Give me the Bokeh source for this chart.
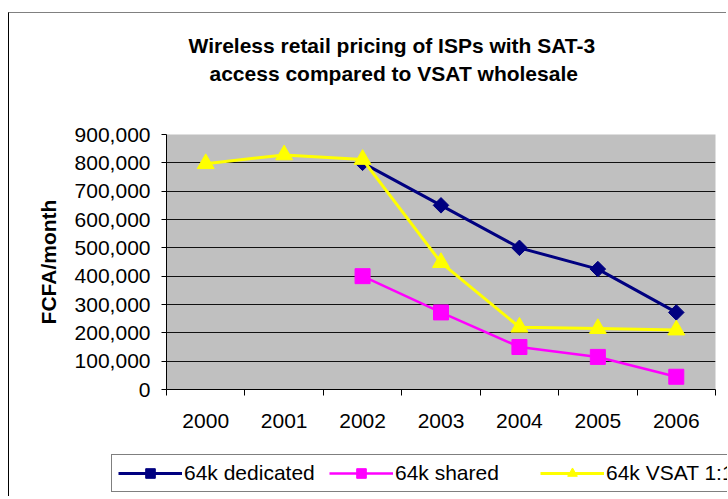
import math
from bokeh.plotting import figure
from bokeh.models import (Range1d, FactorRange, LinearAxis, CategoricalAxis, FixedTicker,
                          NumeralTickFormatter, Legend, LegendItem, Title)
from bokeh.embed import file_html
from bokeh.resources import INLINE

years = ["2000", "2001", "2002", "2003", "2004", "2005", "2006"]

ded_years = ["2002", "2003", "2004", "2005", "2006"]
ded_vals = [800000, 650000, 500000, 425000, 272000]

shared_years = ["2002", "2003", "2004", "2005", "2006"]
shared_vals = [400000, 272000, 150000, 115000, 45000]

vsat_years = ["2000", "2001", "2002", "2003", "2004", "2005", "2006"]
vsat_vals = [797000, 828000, 812000, 448000, 220000, 215000, 210000]

y_ticks = [0, 100000, 200000, 300000, 400000, 500000, 600000, 700000, 800000, 900000]

title_lines = ["Wireless retail pricing of ISPs with SAT-3", "access compared to VSAT wholesale"]
legend_labels = ["64k dedicated", "64k shared", "64k VSAT 1:10"]

FONT = "Liberation Sans"
FS = "21px"
W = 718


def draw_series(fig):
    out = []
    l1 = fig.line(ded_years, ded_vals, line_color="#000080", line_width=3)
    s1 = fig.scatter(ded_years, ded_vals, marker="square", angle=math.pi / 4, size=11,
                     fill_color="#000080", line_color="#000080")
    out.append([l1, s1])
    l2 = fig.line(shared_years, shared_vals, line_color="#FF00FF", line_width=2.5)
    s2 = fig.scatter(shared_years, shared_vals, marker="square", size=15,
                     fill_color="#FF00FF", line_color="#FF00FF")
    out.append([l2, s2])
    l3 = fig.line(vsat_years, vsat_vals, line_color="#FFFF00", line_width=3)
    s3 = fig.scatter(vsat_years, vsat_vals, marker="triangle", size=17,
                     fill_color="#FFFF00", line_color="#FFFF00")
    out.append([l3, s3])
    return out


p = figure(width=W, height=432, x_range=FactorRange(*years), y_range=Range1d(0, 900000),
           output_backend="svg", toolbar_location=None, title=None,
           x_axis_location=None, y_axis_location="left",
           min_border_left=157, min_border_right=12, min_border_top=121, min_border_bottom=56)
p.styles = {"border-left": "1px solid #000000", "border-top": "1px solid #808080",
            "margin-top": "12px", "margin-left": "8px"}

p.background_fill_color = "#C0C0C0"
p.border_fill_color = "white"
p.outline_line_color = None

p.xgrid.visible = False
p.ygrid.ticker = FixedTicker(ticks=y_ticks)
p.ygrid.grid_line_color = "#111111"
p.ygrid.grid_line_width = 1

ya = p.yaxis[0]
ya.ticker = FixedTicker(ticks=y_ticks)
ya.formatter = NumeralTickFormatter(format="0,0")
ya.major_label_text_font = FONT
ya.major_label_text_font_size = FS
ya.major_label_text_color = "black"
ya.major_tick_in = 0
ya.major_tick_out = 5
ya.minor_tick_line_color = None
ya.major_label_standoff = 11
ya.axis_line_color = "black"
ya.axis_label = "FCFA/month"
ya.axis_label_text_font = FONT
ya.axis_label_text_font_size = FS
ya.axis_label_text_font_style = "bold"
ya.axis_label_text_color = "black"
ya.axis_label_standoff = 12

# tick marks at category boundaries (synthetic coordinates of the factor range)
tick_axis = LinearAxis(ticker=FixedTicker(ticks=list(range(len(years) + 1))),
                       major_tick_in=0, major_tick_out=6, minor_tick_line_color=None,
                       major_label_text_font_size="1px", major_label_text_alpha=0,
                       major_label_standoff=0, axis_line_color="black",
                       major_tick_line_color="black")
p.add_layout(tick_axis, "below")
cat_axis = CategoricalAxis(axis_line_color=None, major_tick_line_color=None,
                           major_label_text_font=FONT, major_label_text_font_size=FS,
                           major_label_text_color="black", major_label_standoff=12)
p.add_layout(cat_axis, "below")

draw_series(p)

# two-line title: spacer nearest the plot, then line 2, then line 1
spacer = Title(text=" ", text_font_size="1px", standoff=47)
t2 = Title(text=title_lines[1], align="left", offset=43, text_font=FONT, text_font_size=FS,
           text_font_style="bold", text_color="black", standoff=0)
t1 = Title(text=title_lines[0], align="left", offset=22, text_font=FONT, text_font_size=FS,
           text_font_style="bold", text_color="black", standoff=6)
p.add_layout(spacer, "above")
p.add_layout(t2, "above")
p.add_layout(t1, "above")

# legend strip underneath (its own copies of the series lie outside its visible range)
lg = figure(width=W, height=52, x_range=FactorRange(*years), y_range=Range1d(-3000000, -2000000),
            output_backend="svg", toolbar_location=None, title=None,
            x_axis_location=None, y_axis_location=None,
            min_border_left=0, min_border_right=0, min_border_top=0, min_border_bottom=0)
lg.styles = {"border-left": "1px solid #000000", "margin-left": "8px"}
lg.grid.visible = False
lg.outline_line_color = None
lg.background_fill_color = "white"
lg.border_fill_color = "white"
lg_rends = draw_series(lg)

legend = Legend(items=[LegendItem(label=lab, renderers=r) for lab, r in zip(legend_labels, lg_rends)],
                orientation="horizontal", location=(102, 4),
                glyph_width=64, glyph_height=24, label_height=24, label_width=145,
                label_standoff=2, spacing=0,
                padding=6, margin=0, label_text_font=FONT, label_text_font_size=FS,
                label_text_color="black", border_line_color="black", border_line_width=1,
                background_fill_color="white", background_fill_alpha=1)
lg.add_layout(legend, "center")

open("out.html", "w").write(file_html([p, lg], INLINE))
